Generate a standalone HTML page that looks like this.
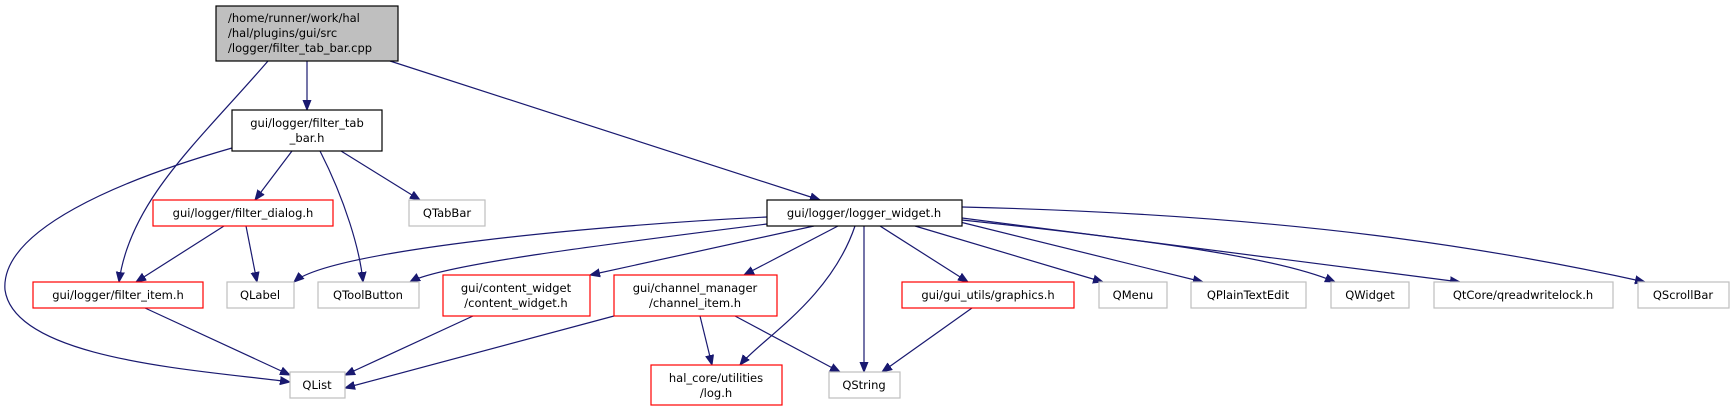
<!DOCTYPE html>
<html><head><meta charset="utf-8"><style>
html,body{margin:0;padding:0;background:#fff;}
svg{display:block;}
text{font-family:"DejaVu Sans","Liberation Sans",sans-serif;font-size:11.5px;fill:#000;text-anchor:middle;}
</style></head><body>
<svg width="1734" height="409" viewBox="0 0 1734 409" xmlns="http://www.w3.org/2000/svg">
<defs>
<marker id="a" viewBox="0 0 10 10" refX="10" refY="5" markerWidth="10" markerHeight="10" markerUnits="userSpaceOnUse" orient="auto">
<path d="M0,1 L10,5 L0,9 z" fill="#191970" stroke="#191970"/>
</marker>
</defs>
<g fill="none" stroke="#191970" stroke-width="1.2" marker-end="url(#a)">
<path d="M307,61 L307,110"/>
<path d="M268,61 C200,140 130,200 119,282"/>
<path d="M390,61 L820,200"/>
<path d="M232,148 C120,180 0,230 5,290 C15,360 200,370 290,382"/>
<path d="M292,151 L255,200"/>
<path d="M320,151 C345,200 360,250 363,282"/>
<path d="M341,151 L420,200"/>
<path d="M224,226 L136,282"/>
<path d="M246,226 L257,282"/>
<path d="M145,308 L290,375"/>
<path d="M767,217 C600,225 330,250 294,282"/>
<path d="M767,224 C600,245 440,265 410,282"/>
<path d="M814,226 L590,275"/>
<path d="M838,226 L744,275"/>
<path d="M855,226 C830,300 760,340 740,365"/>
<path d="M864,226 L864,372"/>
<path d="M880,226 L968,282"/>
<path d="M915,226 L1103,282"/>
<path d="M960,222 L1203,282"/>
<path d="M962,220 C1150,240 1280,258 1335,282"/>
<path d="M962,218 L1460,282"/>
<path d="M962,207 C1300,215 1500,250 1645,282"/>
<path d="M473,316 L345,375"/>
<path d="M614,316 L345,388"/>
<path d="M700,316 L712,365"/>
<path d="M735,316 L840,372"/>
<path d="M972,308 L882,372"/>
</g>
<g stroke-width="1.2">
<rect x="216" y="6" width="182" height="55" fill="#bfbfbf" stroke="#000"/>
<rect x="232" y="110" width="150" height="41" fill="#fff" stroke="#000"/>
<rect x="153" y="200" width="180" height="26" fill="#fff" stroke="#f00"/>
<rect x="409" y="200" width="76" height="26" fill="#fff" stroke="#bfbfbf"/>
<rect x="767" y="200" width="195" height="26" fill="#fff" stroke="#000"/>
<rect x="33" y="282" width="170" height="26" fill="#fff" stroke="#f00"/>
<rect x="227" y="282" width="67" height="26" fill="#fff" stroke="#bfbfbf"/>
<rect x="318" y="282" width="101" height="26" fill="#fff" stroke="#bfbfbf"/>
<rect x="443" y="275" width="147" height="41" fill="#fff" stroke="#f00"/>
<rect x="614" y="275" width="163" height="41" fill="#fff" stroke="#f00"/>
<rect x="290" y="372" width="55" height="26" fill="#fff" stroke="#bfbfbf"/>
<rect x="651" y="365" width="131" height="40" fill="#fff" stroke="#f00"/>
<rect x="829" y="372" width="71" height="26" fill="#fff" stroke="#bfbfbf"/>
<rect x="902" y="282" width="172" height="26" fill="#fff" stroke="#f00"/>
<rect x="1099" y="282" width="68" height="26" fill="#fff" stroke="#bfbfbf"/>
<rect x="1191" y="282" width="115" height="26" fill="#fff" stroke="#bfbfbf"/>
<rect x="1331" y="282" width="78" height="26" fill="#fff" stroke="#bfbfbf"/>
<rect x="1434" y="282" width="179" height="26" fill="#fff" stroke="#bfbfbf"/>
<rect x="1638" y="282" width="91" height="26" fill="#fff" stroke="#bfbfbf"/>
</g>
<text x="228" y="22" style="text-anchor:start">/home/runner/work/hal</text>
<text x="228" y="37" style="text-anchor:start">/hal/plugins/gui/src</text>
<text x="228" y="52" style="text-anchor:start">/logger/filter_tab_bar.cpp</text>
<text x="307" y="127">gui/logger/filter_tab</text>
<text x="307" y="142">_bar.h</text>
<text x="243" y="217">gui/logger/filter_dialog.h</text>
<text x="447" y="217">QTabBar</text>
<text x="864" y="217">gui/logger/logger_widget.h</text>
<text x="118" y="299">gui/logger/filter_item.h</text>
<text x="260" y="299">QLabel</text>
<text x="368" y="299">QToolButton</text>
<text x="516" y="292">gui/content_widget</text>
<text x="516" y="307">/content_widget.h</text>
<text x="695" y="292">gui/channel_manager</text>
<text x="695" y="307">/channel_item.h</text>
<text x="317" y="389">QList</text>
<text x="716" y="382">hal_core/utilities</text>
<text x="716" y="397">/log.h</text>
<text x="864" y="389">QString</text>
<text x="988" y="299">gui/gui_utils/graphics.h</text>
<text x="1133" y="299">QMenu</text>
<text x="1248" y="299">QPlainTextEdit</text>
<text x="1370" y="299">QWidget</text>
<text x="1523" y="299">QtCore/qreadwritelock.h</text>
<text x="1683" y="299">QScrollBar</text>
</svg>
</body></html>
